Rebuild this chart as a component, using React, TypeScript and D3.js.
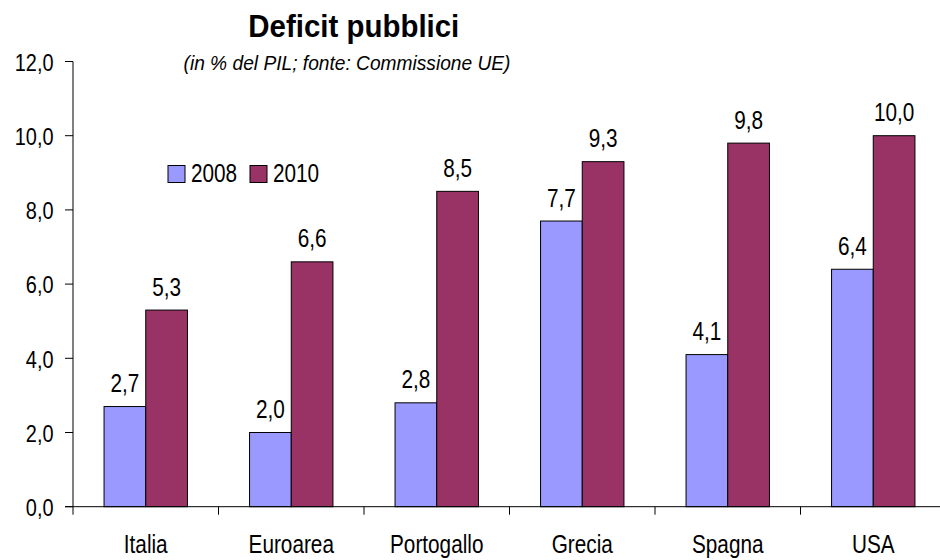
import React from "react";
import * as d3 from "d3";

const categories = ["Italia", "Euroarea", "Portogallo", "Grecia", "Spagna", "USA"];
const series2008 = [2.7, 2.0, 2.8, 7.7, 4.1, 6.4];
const series2010 = [5.3, 6.6, 8.5, 9.3, 9.8, 10.0];
const seriesNames = ["2008", "2010"];
const seriesColors = ["#9999FF", "#993366"];
const yTicks = [0, 2, 4, 6, 8, 10, 12];

const W = 940, H = 560;
const left = 73, yBottom = 506.7, yTop = 61.5;
const band = 145.5;
const FONT = "'Liberation Sans', Arial, sans-serif";
const SX = 0.83;

function T({ x, y, anchor = "start", size = 25, children, sx = SX }: any) {
  return (
    <text transform={`translate(${x},${y}) scale(${sx},1)`} textAnchor={anchor} fontSize={size} fill="#000">
      {children}
    </text>
  );
}

export default function App() {
  const y = d3.scaleLinear().domain([0, 12]).range([yBottom, yTop]);
  const x = d3.scaleBand().domain(categories).range([left, left + band * categories.length]).paddingInner(0).paddingOuter(0);
  const groupW = 83.4;
  const inner = d3.scaleBand().domain(seriesNames).range([0, groupW]);
  const fmt = (v: number) => v.toFixed(1).replace(".", ",");
  const allSeries = [series2008, series2010];

  return (
    <svg width={W} height={H} style={{ position: "absolute", left: 0, top: 0, background: "#fff" }} fontFamily={FONT}>
      <text x={353.8} y={36.7} textAnchor="middle" fontSize={32} fontWeight="bold" fill="#000" textLength={211} lengthAdjust="spacingAndGlyphs">Deficit pubblici</text>
      <text x={347} y={70} textAnchor="middle" fontSize={20} fontStyle="italic" fill="#000" textLength={327} lengthAdjust="spacingAndGlyphs">(in % del PIL; fonte: Commissione UE)</text>

      {/* y axis */}
      <line x1={left} x2={left} y1={y(12)} y2={yBottom} stroke="#000" strokeWidth={1} />
      {yTicks.map((t) => (
        <g key={t}>
          <line x1={left - 8} x2={left} y1={y(t)} y2={y(t)} stroke="#000" />
          <T x={53.5} y={y(t) + 9.3} anchor="end" size={24}>{fmt(t)}</T>
        </g>
      ))}

      {/* bars */}
      {categories.map((c, i) => (
        <g key={c}>
          {allSeries.map((s, j) => {
            const bx = (x(c) as number) + (band - groupW) / 2 + (inner(seriesNames[j]) as number);
            const bw = inner.bandwidth();
            return (
              <g key={j}>
                <rect x={bx} y={y(s[i])} width={bw} height={yBottom - y(s[i])} fill={seriesColors[j]} stroke="#000" strokeWidth={1} />
                <T x={bx + bw / 2} y={y(s[i]) - 14.5} anchor="middle" size={25}>{fmt(s[i])}</T>
              </g>
            );
          })}
        </g>
      ))}

      {/* x axis */}
      <line x1={left - 8} x2={W} y1={yBottom} y2={yBottom} stroke="#000" />
      {d3.range(categories.length + 1).map((k) => (
        <line key={k} x1={left + k * band} x2={left + k * band} y1={yBottom} y2={yBottom + 8} stroke="#000" />
      ))}
      {categories.map((c) => (
        <T key={c} x={(x(c) as number) + band / 2} y={553} anchor="middle" size={25}>{c}</T>
      ))}

      {/* legend */}
      {seriesNames.map((n, j) => (
        <g key={n}>
          <rect x={168 + j * 82} y={165.5} width={17} height={17} fill={seriesColors[j]} stroke="#000" />
          <T x={191 + j * 82} y={182.3} size={25}>{n}</T>
        </g>
      ))}
    </svg>
  );
}
